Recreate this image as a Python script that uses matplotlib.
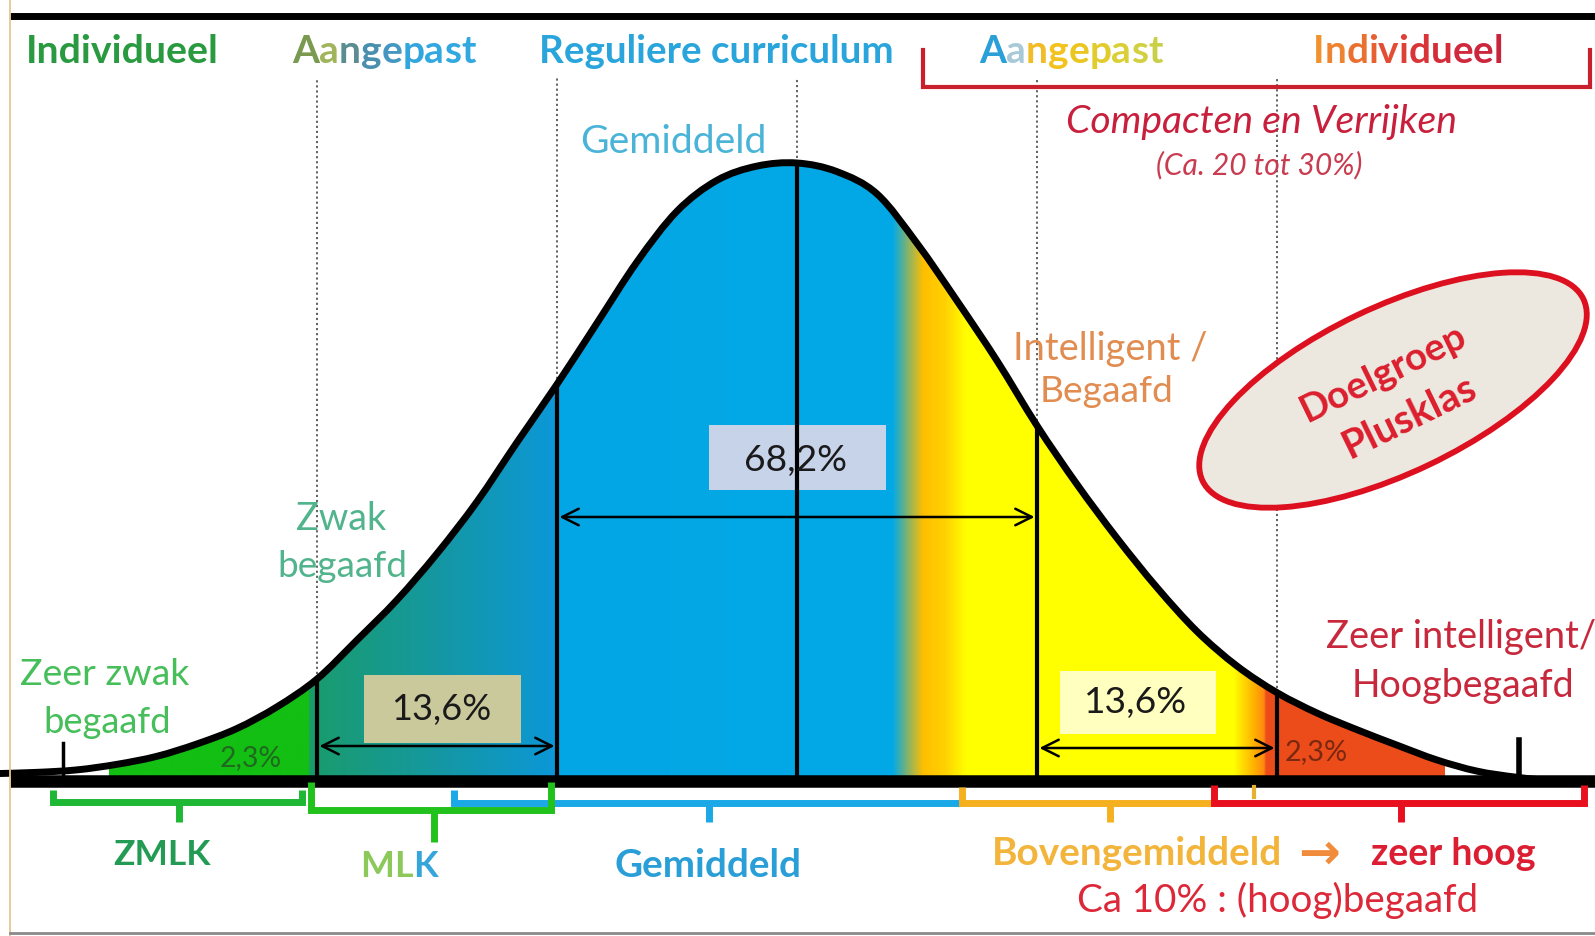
import numpy as np
import matplotlib
matplotlib.use("Agg")
import matplotlib.pyplot as plt
from matplotlib.path import Path
from matplotlib.patches import PathPatch, Rectangle, Ellipse
from matplotlib.transforms import Affine2D
from matplotlib.colors import to_rgb

# ------------------------------------------------------------------ data
iq = [50.0, 52.5, 55.0, 57.5, 60.0, 62.5, 65.0, 67.5, 70.0, 72.5, 75.0, 77.5,
      80.0, 82.5, 85.0, 87.5, 90.0, 92.5, 95.0, 97.5, 100.0, 102.5, 105.0,
      107.5, 110.0, 112.5, 115.0, 117.5, 120.0, 122.5, 125.0, 127.5, 130.0,
      132.5, 135.0, 137.5, 140.0, 142.5, 145.0, 147.5, 150.0]
height = [0.012, 0.014, 0.018, 0.027, 0.04, 0.06, 0.085, 0.12, 0.165, 0.228,
          0.293, 0.368, 0.452, 0.548, 0.642, 0.741, 0.84, 0.922, 0.972, 0.995, 1.0,
          0.986, 0.95, 0.87, 0.777, 0.68, 0.575, 0.48, 0.393, 0.313, 0.242, 0.186,
          0.143, 0.11, 0.083, 0.058, 0.034, 0.016, 0.006, 0.0, 0.0]
sd_bounds = [70.0, 85.0, 100.0, 115.0, 130.0]
tail_ticks = [54.1, 145.1]
pct_center = "68,2%"
pct_side = ["13,6%", "13,6%"]
pct_tail = ["2,3%", "2,3%"]
header_labels = ["Individueel", "Aangepast", "Reguliere curriculum", "Aangepast", "Individueel"]
level_labels = ["Zeer zwak\nbegaafd", "Zwak\nbegaafd", "Gemiddeld", "Intelligent /\nBegaafd",
                "Zeer intelligent/\nHoogbegaafd"]
bracket_labels = ["ZMLK", "MLK", "Gemiddeld", "Bovengemiddeld", "zeer hoog"]

# ------------------------------------------------------------------ setup
W, Hh = 1595, 936
fig = plt.figure(figsize=(W / 100, Hh / 100), dpi=100)
fig.patch.set_facecolor("white")
ax = fig.add_axes([0, 0, 1, 1])
ax.axis("off")
FONT = ["Lato", "DejaVu Sans"]


def IQ(x):
    return 100 + (x - 797) / 16.0


def HY(y):
    return (781 - y) / 618.0


def P(x, y):
    return IQ(x), HY(y)


ax.set_xlim(IQ(0), IQ(W))
ax.set_ylim(HY(Hh), HY(0))
PX = Affine2D().scale(1, -1).translate(0, Hh)  # pixel (top-left origin) -> display
R = fig.canvas.get_renderer()

# ------------------------------------------------------------------ curve path (smooth through read points)
pts = np.column_stack([iq, height])
n = len(pts)
verts = [pts[0]]
codes = [Path.MOVETO]
for i in range(n - 1):
    p0 = pts[i - 1] if i > 0 else pts[i]
    p1, p2 = pts[i], pts[i + 1]
    p3 = pts[i + 2] if i + 2 < n else pts[i + 1]
    verts += [p1 + (p2 - p0) / 6, p2 - (p3 - p1) / 6, p2]
    codes += [Path.CURVE4] * 3
curve_path = Path(verts, codes)
fill_path = Path(verts + [(iq[-1], 0), (iq[0], 0), (iq[0], 0)],
                 codes + [Path.LINETO, Path.LINETO, Path.CLOSEPOLY])
h_at = dict(zip(iq, height))

# gradient fill under the curve
stops = [(50, "#12bf12"), (69.45, "#12bf12"), (69.55, "#1a9c6c"), (77, "#15989e"),
         (84.9, "#0c97d8"), (85.1, "#03a6e4"), (106.0, "#02a9e6"), (107.0, "#8cb464"),
         (107.9, "#ffbe00"), (109.3, "#ffd200"), (110.6, "#ffff00"), (127.3, "#ffff00"),
         (128.6, "#ffb000"), (129.2, "#ff8a10"), (129.35, "#ec4c1a"), (150, "#ec4c1a")]
gx = np.linspace(57, 140.5, 1400)
sx = [s[0] for s in stops]
rgb = np.array([to_rgb(s[1]) for s in stops])
img = np.stack([np.interp(gx, sx, rgb[:, k]) for k in range(3)], axis=-1)[None, :, :]
im = ax.imshow(img, extent=(57, 140.5, 0, 1.05), aspect="auto", interpolation="bilinear", zorder=1)
clip = PathPatch(fill_path, transform=ax.transData, facecolor="none", edgecolor="none")
im.set_clip_path(clip)

# dotted guides
for b in sd_bounds:
    ax.plot([b, b], [h_at[b], HY(78)], color="#555555", lw=1.3, ls=(0, (1.2, 1.6)), zorder=2)

# boxes
ax.add_patch(Rectangle(P(709, 490), IQ(886) - IQ(709), HY(425) - HY(490), fc="#c6d3e9", ec="none", zorder=3))
ax.add_patch(Rectangle(P(364, 743), IQ(521) - IQ(364), HY(675) - HY(743), fc="#c9c99c", ec="none", zorder=3))
ax.add_patch(Rectangle(P(1060, 734), IQ(1216) - IQ(1060), HY(671) - HY(734), fc="#ffffbf", ec="none", zorder=3))

# vertical sd lines
for b in sd_bounds:
    ax.plot([b, b], [0, h_at[b]], color="black", lw=3, zorder=4, solid_capstyle="butt")
ax.plot([tail_ticks[0]] * 2, [0, HY(743)], color="black", lw=2.5, zorder=6)
ax.plot([tail_ticks[1]] * 2, [0, HY(740)], color="black", lw=4, zorder=6)

# curve + baseline
ax.add_patch(PathPatch(curve_path, fc="none", ec="black", lw=5, zorder=5, capstyle="round"))
ax.plot([IQ(10), IQ(W)], [0, 0], color="black", lw=9, zorder=6, solid_capstyle="butt")

# frame lines
ax.plot([IQ(10), IQ(W)], [HY(16), HY(16)], color="black", lw=5, zorder=6, solid_capstyle="butt")
ax.plot([IQ(10), IQ(10)], [HY(0), HY(Hh)], color="#e6c68e", lw=1.3, zorder=6)
ax.plot([IQ(10), IQ(W)], [HY(933), HY(933)], color="#8a8a8a", lw=2, zorder=6)

# arrows
arrow_kw = dict(arrowstyle="<->,head_length=0.7,head_width=0.35", lw=1.8, color="black",
                mutation_scale=17, shrinkA=0, shrinkB=0)
for (a, b), y in [((85, 115), 517), ((70, 85), 746), ((115, 130), 748)]:
    ax.annotate("", xy=(a + 0.15, HY(y)), xytext=(b - 0.15, HY(y)), arrowprops=arrow_kw, zorder=4)

# header bracket
ax.plot([IQ(923), IQ(923), IQ(1590), IQ(1590)], [HY(50), HY(87), HY(87), HY(50)],
        color="#c8202c", lw=3, zorder=6, solid_joinstyle="miter")

# bottom brackets: lo, hi, tick, y, top-left, top-right, tick-bottom, colour
brackets = [
    (53, 302, 179, 802, 790, 790, 822, "#1fb834"),
    (454, 962, 709, 803, 790, 803, 822, "#1aa8e6"),
    (311, 551, 434, 810, 782, 782, 842, "#22c21c"),
    (962, 1214, 1110, 803, 787, 803, 822, "#f5b020"),
    (1214, 1584, 1401, 803, 785, 785, 822, "#e8101e"),
]
for lo, hi, tk, y, ytl, ytr, ytb, c in brackets:
    ax.plot([IQ(lo), IQ(lo), IQ(hi), IQ(hi)], [HY(ytl), HY(y), HY(y), HY(ytr)], color=c, lw=5,
            zorder=6, solid_joinstyle="miter", solid_capstyle="butt")
    ax.plot([IQ(tk), IQ(tk)], [HY(y), HY(ytb)], color=c, lw=5, zorder=6, solid_capstyle="butt")
ax.plot([IQ(1254), IQ(1254)], [HY(787), HY(797)], color="#e8b030", lw=3, zorder=6)

# ellipse (pixel space has y pointing down, so a visual counter-clockwise tilt is negative here)
ax.add_patch(Ellipse((1393, 390), 422, 166, angle=-25.5, transform=PX,
                     fc="#ece8e0", ec="#dd1020", lw=4.2, zorder=6))


# ------------------------------------------------------------------ text helpers
def put(s, cx, by, width, color, weight="normal", style="normal", ha="center", rot=0, va="baseline", z=8):
    t = ax.text(*P(cx, by), s, color=color, fontsize=20, fontweight=weight, fontstyle=style,
                ha=ha, va=va, family=FONT, zorder=z, rotation_mode="anchor")
    w = t.get_window_extent(R).width
    t.set_fontsize(20 * width / w)
    if rot:
        t.set_rotation(rot)
    return t


def multi(s, colors, cx, by, width, weight="bold"):
    t = put(s, cx, by, width, "k", weight=weight)
    fs = t.get_fontsize()
    left = t.get_window_extent(R).x0
    t.remove()
    ydisp = Hh - by
    inv = ax.transData.inverted()
    for i, (ch, c) in enumerate(zip(s, colors)):
        tmp = ax.text(0, 0, s[:i + 1], fontsize=fs, fontweight=weight, family=FONT)
        w = tmp.get_window_extent(R).width
        tmp.remove()
        x, y = inv.transform((left + w, ydisp))
        ax.text(x, y, ch, color=c, fontsize=fs, fontweight=weight, family=FONT, ha="right",
                va="baseline", zorder=8)


# headers
put(header_labels[0], 122, 63, 193, "#2a9a40", weight="bold")
multi(header_labels[1], ["#7a9a50", "#a0b45c", "#5a8c92", "#4a8fae", "#4596c0", "#32a6dc",
                         "#32a8e0", "#32a8e0", "#32a8e0"], 384, 63, 183)
put(header_labels[2], 716, 63, 354, "#2aa5dc", weight="bold")
multi(header_labels[3], ["#2a9fd8", "#a8cad8", "#f0bc28", "#f3c21c", "#eac620", "#e2cb2c",
                         "#dacf36", "#d2d03e", "#cad046"], 1071, 63, 183)
multi(header_labels[4], ["#f0922e", "#ee8430", "#ea7030", "#e66032", "#e24e34", "#de4036",
                         "#d93438", "#d52c3a", "#d0283c", "#cc263c", "#c8243c"], 1408, 63, 191)

# level labels
zz = level_labels[0].split("\n")
put(zz[0], 105, 685, 169, "#46be5a")
put(zz[1], 107, 733, 128, "#46be5a")
zw = level_labels[1].split("\n")
put(zw[0], 341, 530, 90, "#52b48c")
put(zw[1], 342, 577, 130, "#52b48c")
put(level_labels[2], 673, 153, 187, "#4ab4d8")
ib = level_labels[3].split("\n")
put(ib[0], 1110, 360, 195, "#e18c50")
put(ib[1], 1107, 402, 134, "#e18c50")
zi = level_labels[4].split("\n")
put(zi[0], 1461, 648, 272, "#c8283c")
put(zi[1], 1463, 697, 222, "#c8283c")

put("Compacten en Verrijken", 1262, 133, 391, "#c8203c", style="italic")
put("(Ca. 20 tot 30%)", 1259, 174, 206, "#c83c50", style="italic")

# percentages
put(pct_center, 796, 471, 103, "#1a1a1a")
put(pct_side[0], 441, 720, 100, "#1a1a1a")
put(pct_side[1], 1136, 713, 103, "#1a1a1a")
put(pct_tail[0], 251, 766, 62, "#1f6a1f")
put(pct_tail[1], 1316, 760, 63, "#7a2810")

# ellipse text
put("Doelgroep", 1383, 373, 180, "#dc1e2d", weight="bold", rot=26, va="center")
put("Plusklas", 1410, 417, 144, "#dc1e2d", weight="bold", rot=26, va="center")

# bracket labels
put(bracket_labels[0], 162, 865, 97, "#239b55", weight="bold")
multi(bracket_labels[1], ["#8cc85a", "#8cc85a", "#35a5dc"], 399, 877, 77)
put(bracket_labels[2], 708, 877, 187, "#2a9ed6", weight="bold")
put(bracket_labels[3], 1137, 865, 291, "#f2b43a", weight="bold")
ax.text(*P(1319, 855), "\u2192", color="#f08c3c", fontsize=36, fontweight="bold",
        family=["DejaVu Sans"], ha="center", va="center", zorder=8)
put(bracket_labels[4], 1453, 865, 165, "#dc1e32", weight="bold")
put("Ca 10% : (hoog)begaafd", 1278, 912, 400, "#dc2838")

fig.savefig("out.png", dpi=100, facecolor="white")
